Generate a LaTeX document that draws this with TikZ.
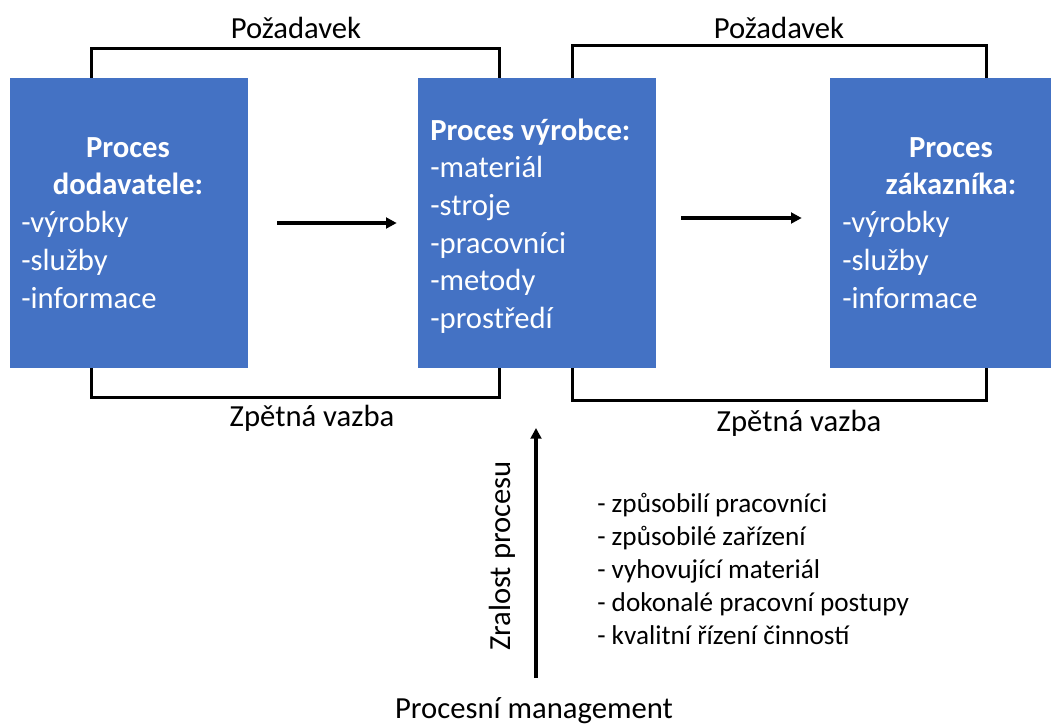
\documentclass[tikz,border=0pt]{standalone}
\usepackage{fontspec}
\setmainfont{Carlito}
\usetikzlibrary{calc,arrows.meta}
\definecolor{procblue}{HTML}{4472C4}
\begin{document}
\begin{tikzpicture}[x=0.75pt, y=-0.75pt, >={Triangle[length=8pt,width=8pt]}]
      \tikzset{
  procbox/.style={
    rectangle,
    fill=procblue,
    inner sep=0,
    minimum height=217.5pt
  },
  boxtext/.style={
    text=white,
    inner sep=0,
    font=\fontsize{23}{28.2}\selectfont
  },
  plaintext/.style={
    inner sep=0,
    font=\fontsize{23}{28.2}\selectfont
  },
  bracket/.style={line width=2.25pt},
  flow/.style={->, line width=2.4pt}
}
\useasboundingbox (0,0) rectangle (1051,728);

\foreach \n/\x/\w in {sup/129/238, mfr/537/238, cust/940.5/221}
  \node [procbox, minimum width=\w*0.75pt] (\n) at (\x,223) {};

% texts in the boxes
\node [boxtext, align=center, font=\fontsize{23}{27.75}\selectfont\bfseries] (sup-title) at (128,166) {Proces\\dodavatele:};
\node [boxtext, align=left, anchor=west] (sup-list) at (21,260) {-výrobky\\-služby\\-informace};
\node [boxtext, align=left, anchor=west] (mfr-list) at (430,226) {\textbf{Proces výrobce:}\\-materiál\\-stroje\\-pracovníci\\-metody\\-prostředí};
\node [boxtext, align=center, font=\fontsize{23}{27.75}\selectfont\bfseries] (cust-title) at (951,166) {Proces\\zákazníka:};
\node [boxtext, align=left, anchor=west] (cust-list) at (842,260) {-výrobky\\-služby\\-informace};

% requests and feedback
\draw [bracket] ($(sup.north west)+(82,0)$) -- ++(0,-29) -| ($(mfr.north west)+(82,0)$);
\draw [bracket] ($(mfr.north west)+(155,0)$) -- ++(0,-32) -| ($(cust.north west)+(157,0)$);
\draw [bracket] ($(sup.south west)+(82,0)$) -- ++(0,29) -| ($(mfr.south west)+(82,0)$);
\draw [bracket] ($(mfr.south west)+(155,0)$) -- ++(0,32) -| ($(cust.south west)+(157,0)$);

\node [plaintext] (req-1) at (296,28) {Požadavek};
\node [plaintext] (req-2) at (779,28) {Požadavek};
\node [plaintext] (fb-1) at (312,418) {Zpětná vazba};
\node [plaintext] (fb-2) at (799,423) {Zpětná vazba};

\draw [flow, shorten <=21.75pt, shorten >=15.75pt] (sup.east) -- (mfr.west);
\draw [flow, shorten <=18.75pt, shorten >=21pt] ([yshift=3.75pt]mfr.east) -- ([yshift=3.75pt]cust.west);

% maturity
\node [plaintext] (mgmt) at (534,711) {Procesní management};
\coordinate (maturity-bot) at (536,678);
\coordinate (maturity-top) at (536,428);
\draw [flow] (maturity-bot) -- (maturity-top);
\node [plaintext, rotate=90] (maturity) at (502,556) {Zralost procesu};

\node [plaintext, align=left, anchor=west, font=\fontsize{20.4}{24.75}\selectfont] (needs) at (597,569)
  {- způsobilí pracovníci\\- způsobilé zařízení\\- vyhovující materiál\\- dokonalé pracovní postupy\\- kvalitní řízení činností};
      \end{tikzpicture}
\end{document}
